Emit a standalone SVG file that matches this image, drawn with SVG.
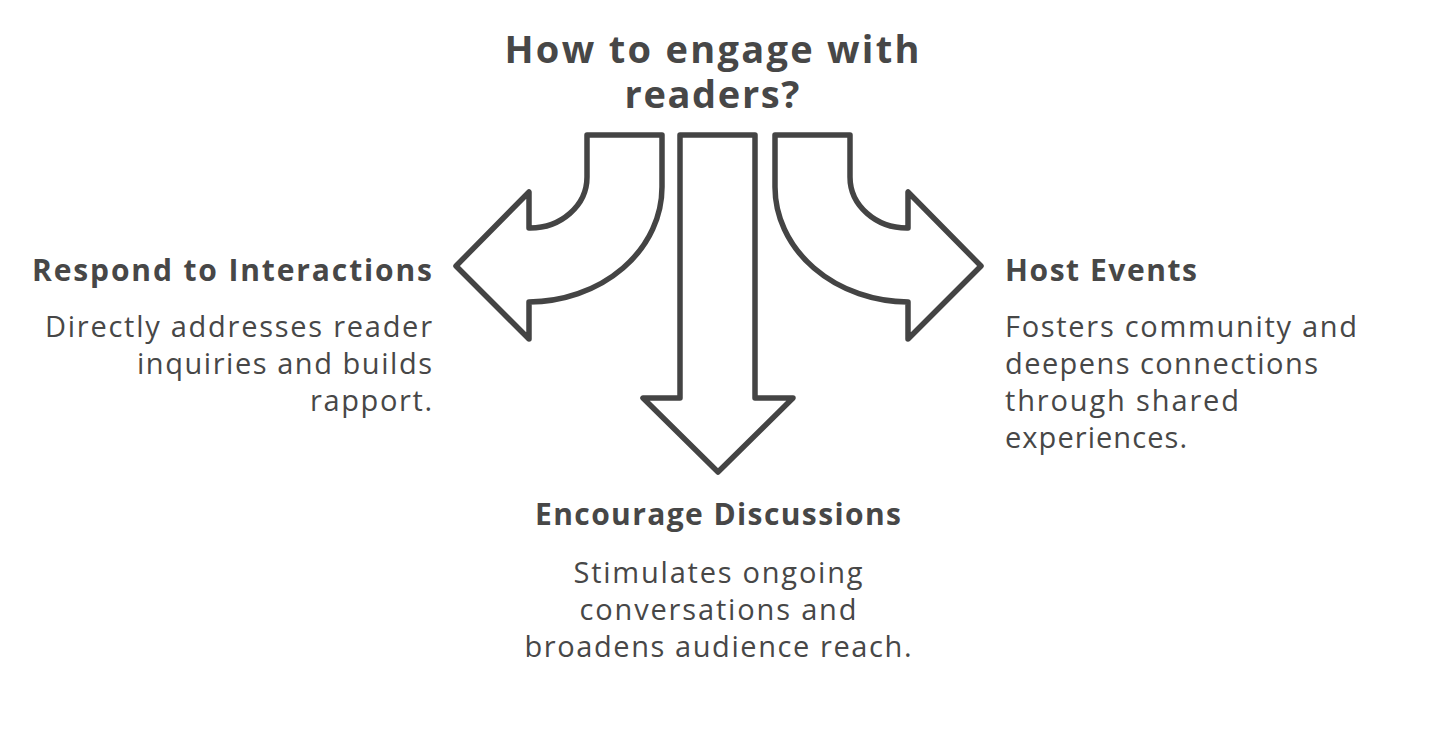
<svg xmlns="http://www.w3.org/2000/svg" width="1456" height="741" viewBox="0 0 1456 741">
<style>
.arrow{fill:#fff;stroke:#444;stroke-width:5.5;stroke-linejoin:round;stroke-linecap:round}
.t{font-family:"Open Sans","Liberation Sans",sans-serif;font-weight:700;fill:#474747}
.d{font-family:"Open Sans","Liberation Sans",sans-serif;font-weight:400;fill:#474747;font-size:29px}
</style>
<rect width="1456" height="741" fill="#fff"/>
<g id="title">
<text class="t" font-size="38" text-anchor="middle"><tspan x="712" y="63" textLength="415" lengthAdjust="spacing">How to engage with</tspan><tspan x="712" y="108" textLength="175" lengthAdjust="spacing">readers?</tspan></text>
</g>
<g id="connectors">
<path class="arrow" d="M587,135 L662,135 L662,187 A134,115 0 0 1 529,302 L529,339 L456,266 L529,192 L529,228 A57,51 0 0 0 587,177 Z"/>
<path class="arrow" d="M680,135 L755,135 L755,398 L793,398 L718,472 L643,398 L680,398 Z"/>
<path class="arrow" d="M850,135 L775,135 L775,187 A134,115 0 0 0 908,302 L908,339 L981,266 L908,192 L908,228 A57,51 0 0 1 850,177 Z"/>
</g>
<g id="node-respond">
<text class="t" x="432" y="281" font-size="30" text-anchor="end" textLength="400" lengthAdjust="spacing">Respond to Interactions</text>
<text class="d" x="432" y="337" text-anchor="end" textLength="387" lengthAdjust="spacing">Directly addresses reader</text>
<text class="d" x="432" y="374" text-anchor="end" textLength="295" lengthAdjust="spacing">inquiries and builds</text>
<text class="d" x="432" y="411" text-anchor="end" textLength="122" lengthAdjust="spacing">rapport.</text>
</g>
<g id="node-host">
<text class="t" x="1005" y="281" font-size="30" textLength="192" lengthAdjust="spacing">Host Events</text>
<text class="d" x="1005" y="337" textLength="352" lengthAdjust="spacing">Fosters community and</text>
<text class="d" x="1005" y="374" textLength="313" lengthAdjust="spacing">deepens connections</text>
<text class="d" x="1005" y="411" textLength="234" lengthAdjust="spacing">through shared</text>
<text class="d" x="1005" y="448" textLength="182" lengthAdjust="spacing">experiences.</text>
</g>
<g id="node-encourage">
<text class="t" x="718" y="525" font-size="30" text-anchor="middle" textLength="366" lengthAdjust="spacing">Encourage Discussions</text>
<text class="d" x="718" y="583" text-anchor="middle" textLength="289" lengthAdjust="spacing">Stimulates ongoing</text>
<text class="d" x="718" y="620" text-anchor="middle" textLength="277" lengthAdjust="spacing">conversations and</text>
<text class="d" x="718" y="657" text-anchor="middle" textLength="387" lengthAdjust="spacing">broadens audience reach.</text>
</g>
</svg>
